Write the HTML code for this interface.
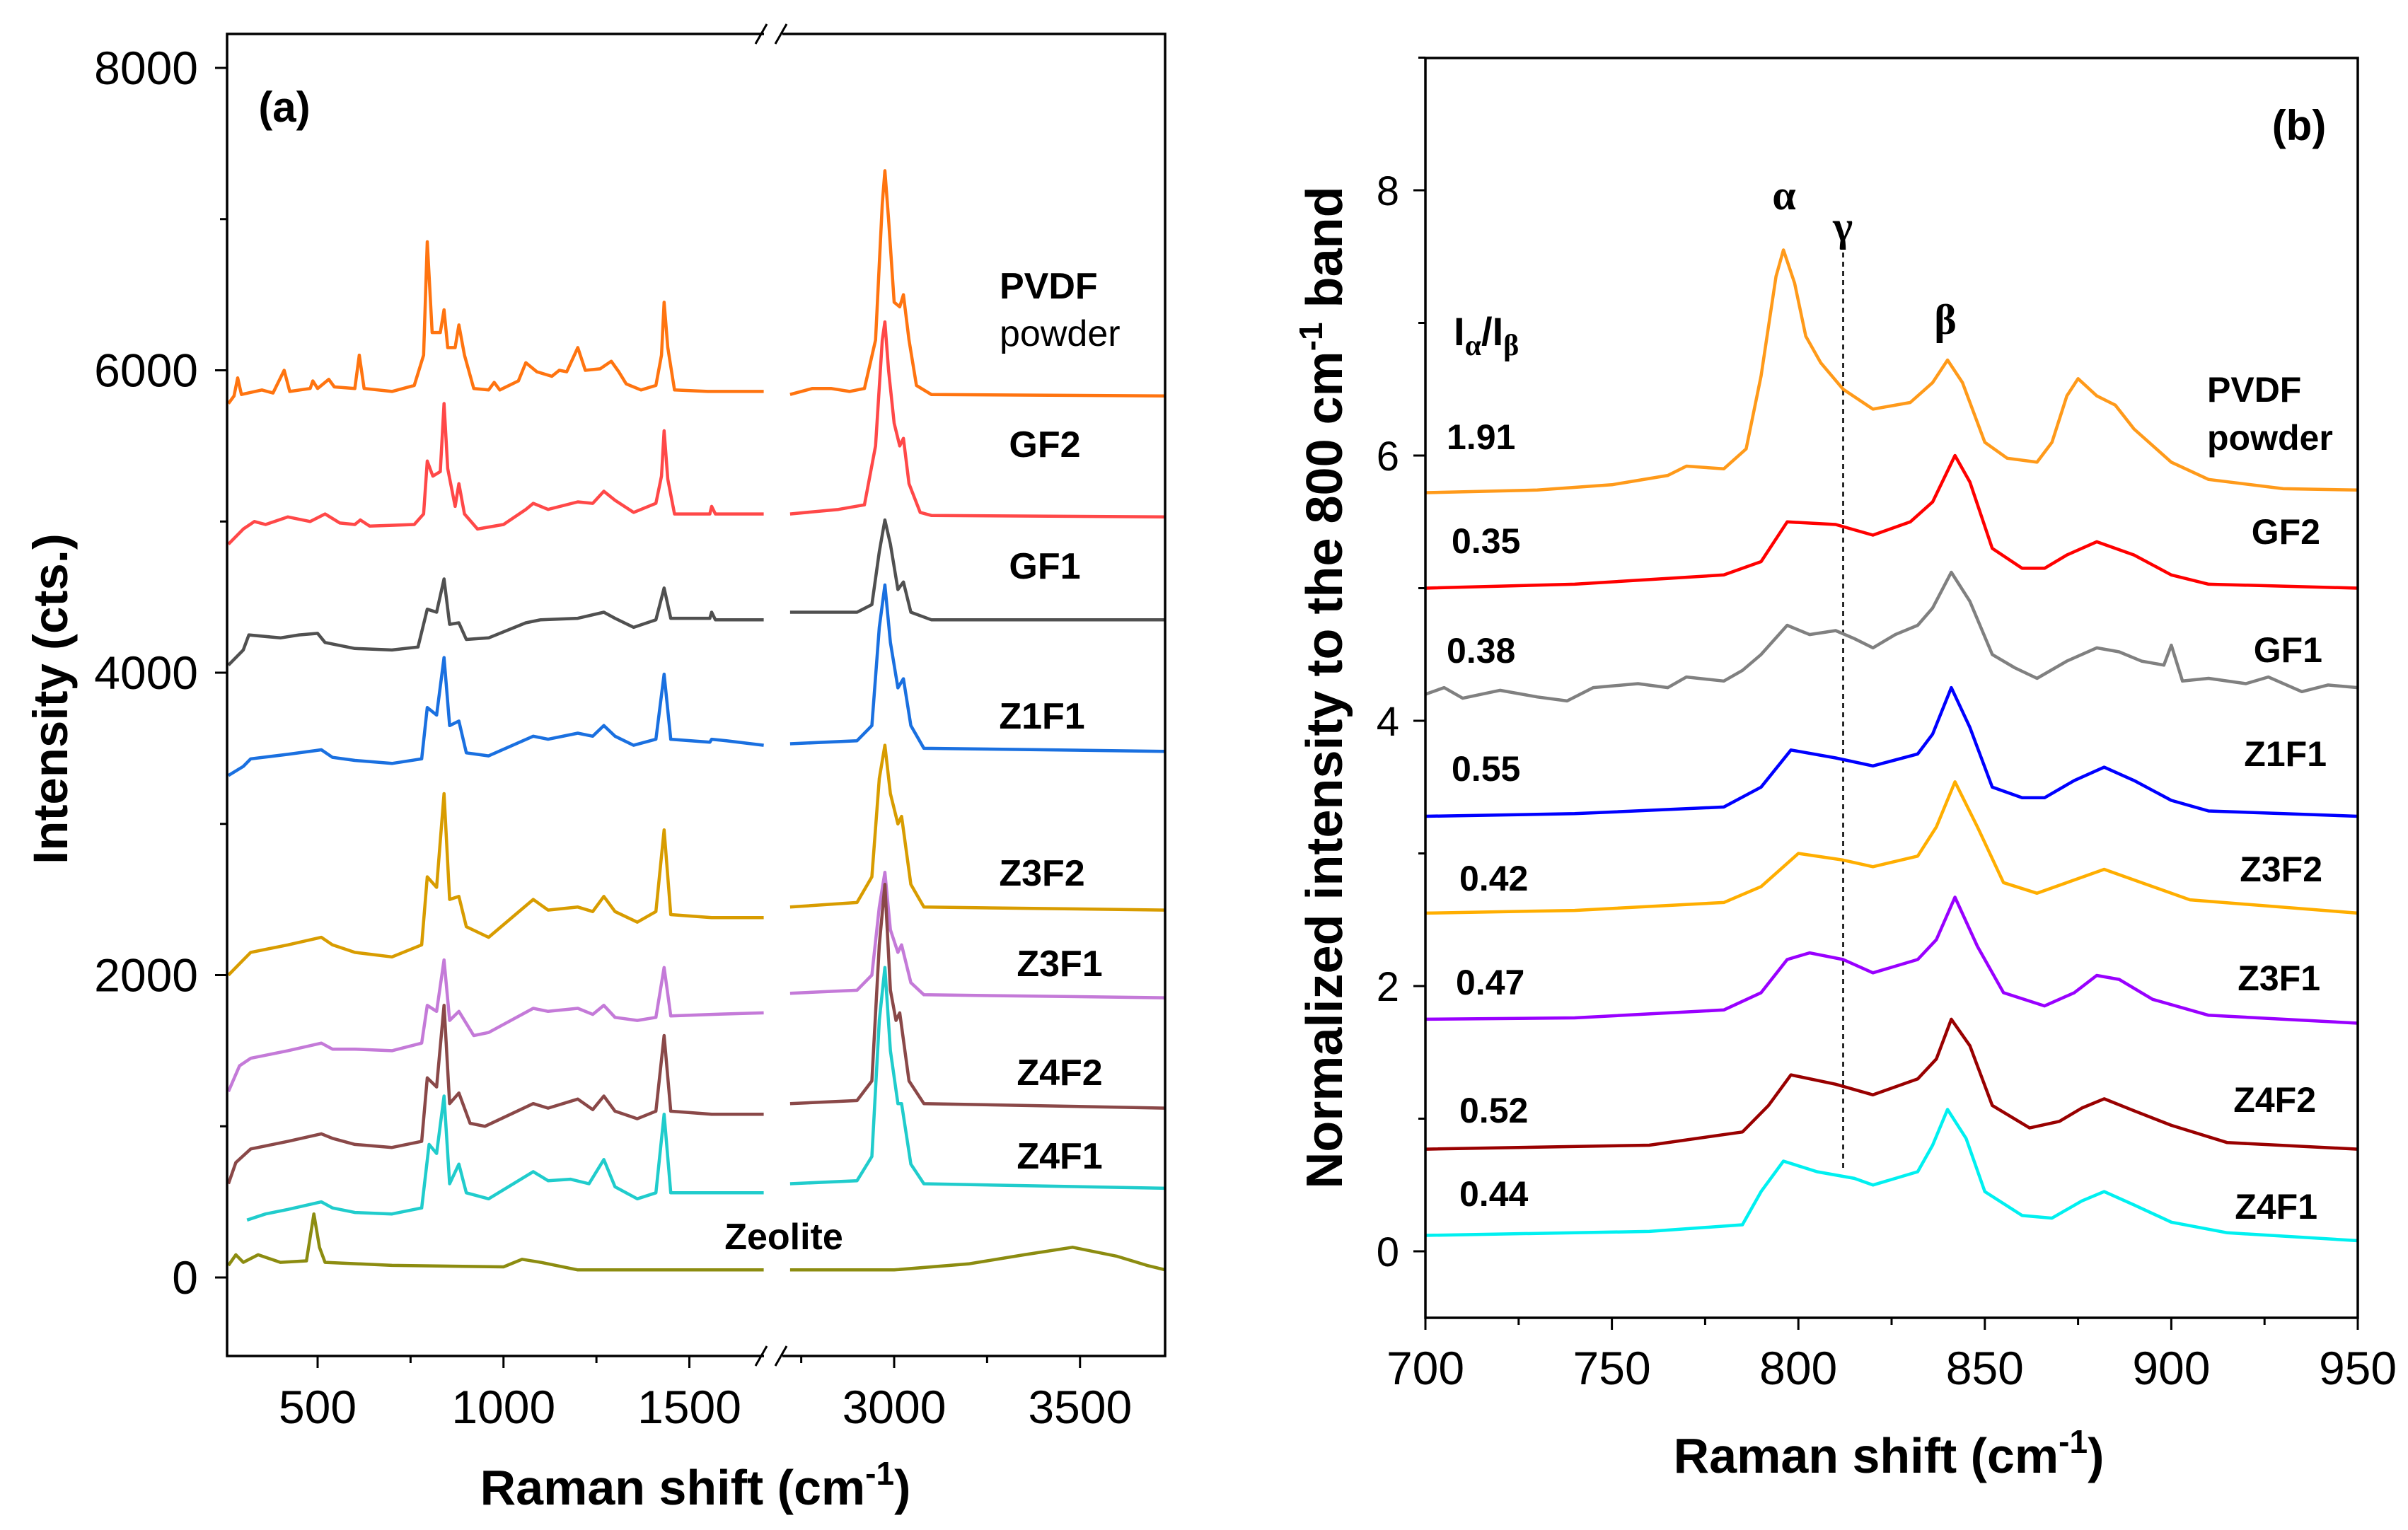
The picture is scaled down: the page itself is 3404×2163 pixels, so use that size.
<!DOCTYPE html>
<html><head><meta charset="utf-8"><style>
html,body{margin:0;padding:0;background:#fff;}
svg{display:block;font-family:"Liberation Sans",Arial,sans-serif;}
</style></head><body>
<svg id="fig" width="3404" height="2163" viewBox="0 0 3404 2163" xmlns="http://www.w3.org/2000/svg">
<g id="pa"></g>
<g id="pb"></g>
</svg>
<script>
// ---------- Panel A data ----------
const aSeriesNames = ["PVDF powder","GF2","GF1","Z1F1","Z3F2","Z3F1","Z4F2","Z4F1","Zeolite"];
const aColors = ["#ff7410","#ff4848","#505050","#1a70e0","#d89c00","#c47ad8","#8a4848","#20cccc","#8c8c10"];
const aPVDF_L = [[260,5780],[275,5830],[285,5950],[295,5840],[350,5870],[380,5850],[410,6000],[425,5860],[480,5880],[487,5930],[500,5880],[530,5940],[545,5890],[600,5880],[612,6100],[625,5880],[700,5860],[760,5900],[785,6100],[795,6850],[808,6250],[830,6250],[840,6400],[850,6150],[870,6150],[880,6300],[895,6100],[920,5880],[960,5870],[975,5920],[990,5870],[1040,5930],[1060,6050],[1090,5990],[1130,5960],[1150,6000],[1170,5990],[1200,6150],[1220,6000],[1260,6010],[1290,6060],[1310,5990],[1330,5910],[1370,5870],[1410,5900],[1425,6100],[1432,6450],[1442,6150],[1460,5870],[1550,5860],[1700,5860]];
const aPVDF_R = [[2720,5840],[2780,5880],[2830,5880],[2880,5860],[2920,5880],[2950,6200],[2968,7100],[2975,7320],[2985,7000],[3000,6450],[3015,6420],[3025,6500],[3040,6200],[3060,5900],[3100,5840],[3730,5830]];
const aGF2_L = [[260,4850],[300,4950],[330,5000],[360,4980],[420,5030],[480,5000],[520,5050],[560,4990],[600,4980],[615,5010],[640,4970],[760,4980],[785,5050],[795,5400],[810,5300],[830,5330],[840,5780],[850,5350],[870,5100],[880,5250],[895,5050],[930,4950],[1000,4980],[1060,5080],[1080,5120],[1120,5080],[1200,5130],[1240,5120],[1270,5200],[1300,5140],[1350,5060],[1410,5120],[1425,5300],[1432,5600],[1442,5280],[1460,5050],[1555,5050],[1560,5100],[1570,5050],[1700,5050]];
const aGF2_R = [[2720,5050],[2850,5080],[2920,5110],[2950,5500],[2968,6200],[2975,6320],[2985,6000],[3000,5650],[3015,5500],[3025,5550],[3040,5250],[3070,5060],[3100,5040],[3730,5030]];
const aGF1_L = [[260,4050],[300,4150],[315,4250],[400,4230],[450,4250],[500,4260],[520,4200],[600,4160],[700,4150],[770,4170],[795,4420],[820,4400],[840,4620],[855,4320],[880,4330],[900,4220],[960,4230],[1060,4330],[1100,4350],[1200,4360],[1270,4400],[1300,4360],[1350,4300],[1410,4350],[1432,4560],[1450,4360],[1555,4360],[1560,4400],[1570,4350],[1700,4350]];
const aGF1_R = [[2720,4400],[2900,4400],[2940,4450],[2960,4800],[2975,5010],[2990,4850],[3010,4550],[3025,4600],[3045,4400],[3100,4350],[3730,4350]];
const aZ1F1_L = [[260,3320],[300,3380],[320,3430],[420,3460],[510,3490],[540,3440],[600,3420],[700,3400],[780,3430],[795,3770],[820,3720],[840,4100],[855,3650],[880,3680],[900,3470],[960,3450],[1080,3580],[1120,3560],[1200,3600],[1240,3580],[1270,3650],[1300,3580],[1350,3520],[1410,3560],[1432,3990],[1450,3560],[1555,3540],[1560,3560],[1600,3550],[1700,3520]];
const aZ1F1_R = [[2720,3530],[2900,3550],[2940,3650],[2960,4300],[2975,4580],[2990,4200],[3010,3900],[3025,3960],[3045,3650],[3080,3500],[3730,3480]];
const aZ3F2_L = [[260,2000],[300,2100],[320,2150],[420,2200],[510,2250],[540,2200],[600,2150],[700,2120],[780,2200],[795,2650],[820,2580],[840,3200],[855,2500],[880,2520],[900,2320],[960,2250],[1080,2500],[1120,2430],[1200,2450],[1240,2420],[1270,2520],[1300,2420],[1360,2350],[1410,2420],[1432,2960],[1450,2400],[1560,2380],[1700,2380]];
const aZ3F2_R = [[2720,2450],[2900,2480],[2940,2650],[2960,3300],[2975,3520],[2990,3200],[3010,3000],[3020,3050],[3045,2600],[3080,2450],[3730,2430]];
const aZ3F1_L = [[260,1230],[290,1400],[320,1450],[420,1500],[510,1550],[540,1510],[600,1510],[700,1500],[780,1550],[795,1800],[820,1760],[840,2100],[855,1700],[880,1760],[920,1600],[960,1620],[1080,1780],[1120,1760],[1200,1780],[1240,1740],[1270,1800],[1300,1720],[1360,1700],[1410,1720],[1432,2050],[1450,1730],[1560,1740],[1700,1750]];
const aZ3F1_R = [[2720,1880],[2900,1900],[2940,2000],[2960,2450],[2975,2680],[2990,2300],[3010,2150],[3020,2200],[3045,1950],[3080,1870],[3730,1850]];
const aZ4F2_L = [[260,620],[280,760],[320,850],[420,900],[510,950],[540,920],[600,880],[700,860],[780,900],[795,1320],[820,1260],[840,1800],[855,1150],[880,1220],[910,1020],[950,1000],[1080,1150],[1120,1120],[1200,1180],[1240,1110],[1270,1200],[1300,1100],[1360,1050],[1410,1100],[1432,1600],[1450,1100],[1560,1080],[1700,1080]];
const aZ4F2_R = [[2720,1150],[2900,1170],[2940,1300],[2960,2200],[2975,2600],[2990,1900],[3005,1700],[3015,1750],[3040,1300],[3080,1150],[3730,1120]];
const aZ4F1_L = [[310,380],[360,420],[420,450],[510,500],[540,460],[600,430],[700,420],[780,460],[800,880],[820,820],[840,1200],[855,620],[880,750],[900,560],[960,520],[1080,700],[1120,640],[1180,650],[1230,620],[1270,780],[1300,600],[1360,520],[1410,560],[1432,1080],[1450,560],[1560,560],[1700,560]];
const aZ4F1_R = [[2720,620],[2900,640],[2940,800],[2960,1700],[2975,2050],[2990,1500],[3010,1150],[3020,1150],[3045,750],[3080,620],[3730,590]];
const aZeo_L = [[260,80],[280,150],[300,100],[340,150],[400,100],[470,110],[490,420],[505,200],[520,100],[700,80],[1000,70],[1050,120],[1100,100],[1200,50],[1700,50]];
const aZeo_R = [[2720,50],[3000,50],[3200,90],[3350,150],[3480,200],[3600,140],[3680,80],[3730,50]];
const aLeft = [aPVDF_L,aGF2_L,aGF1_L,aZ1F1_L,aZ3F2_L,aZ3F1_L,aZ4F2_L,aZ4F1_L,aZeo_L];
const aRight = [aPVDF_R,aGF2_R,aGF1_R,aZ1F1_R,aZ3F2_R,aZ3F1_R,aZ4F2_R,aZ4F1_R,aZeo_R];
const aYTicks = [0,2000,4000,6000,8000];
const aXTicksL = [500,1000,1500];
const aXTicksR = [3000,3500];

// ---------- Panel B data ----------
const bSeriesNames = ["PVDF powder","GF2","GF1","Z1F1","Z3F2","Z3F1","Z4F2","Z4F1"];
const bColors = ["#ff9a1a","#ff0000","#808080","#0000ff","#ffae00","#9900ff","#990000","#00f0f0"];
const bRatios = ["1.91","0.35","0.38","0.55","0.42","0.47","0.52","0.44"];
const bPVDF = [[700,5.72],[730,5.74],[750,5.78],[765,5.85],[770,5.92],[780,5.9],[786,6.05],[790,6.6],[794,7.35],[796,7.55],[799,7.3],[802,6.9],[806,6.7],[812,6.5],[820,6.35],[830,6.4],[836,6.55],[840,6.72],[844,6.55],[850,6.1],[856,5.98],[864,5.95],[868,6.1],[872,6.45],[875,6.58],[880,6.45],[885,6.38],[890,6.2],[900,5.95],[910,5.82],[930,5.75],[950,5.74]];
const bGF2 = [[700,5.0],[740,5.03],[780,5.1],[790,5.2],[797,5.5],[810,5.48],[820,5.4],[830,5.5],[836,5.65],[842,6.0],[846,5.8],[852,5.3],[860,5.15],[866,5.15],[872,5.25],[880,5.35],[890,5.25],[900,5.1],[910,5.03],[950,5.0]];
const bGF1 = [[700,4.2],[705,4.25],[710,4.17],[720,4.23],[730,4.18],[738,4.15],[745,4.25],[757,4.28],[765,4.25],[770,4.33],[780,4.3],[785,4.38],[790,4.5],[797,4.72],[803,4.65],[810,4.68],[815,4.62],[820,4.55],[826,4.65],[832,4.72],[836,4.85],[841,5.12],[846,4.9],[852,4.5],[858,4.4],[864,4.32],[872,4.45],[880,4.55],[886,4.52],[892,4.45],[898,4.42],[900,4.57],[903,4.3],[910,4.32],[920,4.28],[926,4.33],[935,4.22],[942,4.27],[950,4.25]];
const bZ1F1 = [[700,3.28],[740,3.3],[780,3.35],[790,3.5],[798,3.78],[810,3.72],[820,3.66],[832,3.75],[836,3.9],[841,4.25],[846,3.95],[852,3.5],[860,3.42],[866,3.42],[874,3.55],[882,3.65],[890,3.55],[900,3.4],[910,3.32],[950,3.28]];
const bZ3F2 = [[700,2.55],[740,2.57],[780,2.63],[790,2.75],[800,3.0],[812,2.95],[820,2.9],[832,2.98],[837,3.2],[842,3.54],[848,3.2],[855,2.78],[864,2.7],[872,2.78],[882,2.88],[892,2.78],[905,2.65],[950,2.55]];
const bZ3F1 = [[700,1.75],[740,1.76],[780,1.82],[790,1.95],[797,2.2],[803,2.25],[812,2.2],[820,2.1],[832,2.2],[837,2.35],[842,2.67],[848,2.3],[855,1.95],[866,1.85],[874,1.95],[880,2.08],[886,2.05],[895,1.9],[910,1.78],[950,1.72]];
const bZ4F2 = [[700,0.77],[760,0.8],[785,0.9],[792,1.1],[798,1.33],[810,1.26],[820,1.18],[832,1.3],[837,1.45],[841,1.75],[846,1.55],[852,1.1],[862,0.93],[870,0.98],[876,1.08],[882,1.15],[890,1.06],[900,0.95],[915,0.82],[950,0.77]];
const bZ4F1 = [[700,0.12],[760,0.15],[785,0.2],[790,0.45],[796,0.68],[805,0.6],[815,0.55],[820,0.5],[832,0.6],[836,0.8],[840,1.07],[845,0.85],[850,0.45],[860,0.27],[868,0.25],[876,0.38],[882,0.45],[890,0.35],[900,0.22],[915,0.14],[950,0.08]];
const bSeries = [bPVDF,bGF2,bGF1,bZ1F1,bZ3F2,bZ3F1,bZ4F2,bZ4F1];
const bXTicks = [700,750,800,850,900,950];
const bYTicks = [0,2,4,6,8];

const NS = "http://www.w3.org/2000/svg";
function mk(parent, tag, attrs, text) {
  const e = document.createElementNS(NS, tag);
  for (const k in attrs) e.setAttribute(k, attrs[k]);
  if (text !== undefined) e.textContent = text;
  parent.appendChild(e);
  return e;
}
function xA(v){ return v <= 1700 ? 449 + (v-500)*0.5255 : 1264 + (v-3000)*0.5255; }
function yA(v){ return 1806 - v*0.21375; }
function xB(v){ return 2015 + (v-700)*5.272; }
function yB(v){ return 1769 - v*187.5; }
function pts(arr, fx, fy){ return arr.map(p => fx(p[0]).toFixed(1)+","+fy(p[1]).toFixed(1)).join(" "); }

// ---------- Panel A ----------
const pa = document.getElementById('pa');
const A = {l:321, r:1647, t:48, b:1917, brk1:1080, brk2:1106};
for (let i=0;i<aLeft.length;i++){
  let e = mk(pa,'polyline',{points:pts(aLeft[i],xA,yA),fill:'none',stroke:aColors[i],'stroke-width':4.5,'stroke-linejoin':'round'});
  
  
  e = mk(pa,'polyline',{points:pts(aRight[i],xA,yA),fill:'none',stroke:aColors[i],'stroke-width':4.5,'stroke-linejoin':'round'});
  
  
}
let fr = mk(pa,'path',{d:`M${A.brk1},${A.t} H${A.l} V${A.b} H${A.brk1} M${A.brk2},${A.t} H${A.r} V${A.b} H${A.brk2}`,fill:'none',stroke:'#000','stroke-width':3.5});


[A.t,A.b].forEach(yy=>{
  let bk = mk(pa,'path',{d:`M${A.brk1-12},${yy+14} L${A.brk1+4},${yy-14} M${A.brk2-10},${yy+14} L${A.brk2+6},${yy-14}`,stroke:'#000','stroke-width':3,fill:'none'});
  
  
});
for (let v=0; v<=8000; v+=1000){
  const major = aYTicks.includes(v);
  let t = mk(pa,'line',{x1:A.l-(major?17:10),x2:A.l,y1:yA(v),y2:yA(v),stroke:'#000','stroke-width':3});
  
  
}
aYTicks.forEach(v=>{
  let t = mk(pa,'text',{x:280,y:yA(v)+23,'text-anchor':'end','font-size':66},String(v));
  
  
});
for (let v=250; v<=1700; v+=250){ if (v<256) continue;
  const major = aXTicksL.includes(v);
  let t = mk(pa,'line',{x1:xA(v),x2:xA(v),y1:A.b,y2:A.b+(major?17:10),stroke:'#000','stroke-width':3});
  
  
}
for (let v=2750; v<=3730; v+=250){
  const major = aXTicksR.includes(v);
  let t = mk(pa,'line',{x1:xA(v),x2:xA(v),y1:A.b,y2:A.b+(major?17:10),stroke:'#000','stroke-width':3});
  
  
}
aXTicksL.concat(aXTicksR).forEach(v=>{
  let t = mk(pa,'text',{x:xA(v),y:2012,'text-anchor':'middle','font-size':66},String(v));
  
  
});
let ta = mk(pa,'text',{x:983,y:2127,'text-anchor':'middle','font-size':70,'font-weight':'bold'},'Raman shift (cm');


mk(ta,'tspan',{dy:-28,'font-size':46},'-1');
mk(ta,'tspan',{dy:28},')');
let tya = mk(pa,'text',{x:0,y:0,transform:'translate(95,988) rotate(-90)','text-anchor':'middle','font-size':69,'font-weight':'bold'},'Intensity (cts.)');


let pla = mk(pa,'text',{x:402,y:172,'text-anchor':'middle','font-size':60,'font-weight':'bold'},'(a)');


const aLabelPos = [[1413,422],[1477,646],[1477,818],[1473,1030],[1473,1252],[1498,1380],[1498,1534],[1498,1652],[1108,1766]];
for (let i=0;i<aSeriesNames.length;i++){
  const nm = i===0 ? 'PVDF' : aSeriesNames[i];
  let t = mk(pa,'text',{x:aLabelPos[i][0],y:aLabelPos[i][1],'text-anchor':i===0?'start':'middle','font-size':52,'font-weight':'bold'},nm);
  
  
}
let pw = mk(pa,'text',{x:1413,y:489,'font-size':52},'powder');



// ---------- Panel B ----------
const pb = document.getElementById('pb');
const B = {l:2015, r:3333, t:82, b:1863};
let dl = mk(pb,'line',{x1:xB(812),x2:xB(812),y1:yB(7.6),y2:yB(0.6),stroke:'#000','stroke-width':2.5,'stroke-dasharray':'7,6'});


for (let i=0;i<bSeries.length;i++){
  let e = mk(pb,'polyline',{points:pts(bSeries[i],xB,yB),fill:'none',stroke:bColors[i],'stroke-width':4.5,'stroke-linejoin':'round'});
  
  
}
let frb = mk(pb,'rect',{x:B.l,y:B.t,width:B.r-B.l,height:B.b-B.t,fill:'none',stroke:'#000','stroke-width':3.5});


for (let v=0; v<=9; v+=1){
  const major = bYTicks.includes(v);
  let t = mk(pb,'line',{x1:B.l-(major?17:10),x2:B.l,y1:yB(v),y2:yB(v),stroke:'#000','stroke-width':3});
  
  
}
bYTicks.forEach(v=>{
  let t = mk(pb,'text',{x:1978,y:yB(v)+21,'text-anchor':'end','font-size':58},String(v));
  
  
});
for (let v=700; v<=950; v+=25){
  const major = bXTicks.includes(v);
  let t = mk(pb,'line',{x1:xB(v),x2:xB(v),y1:B.b,y2:B.b+(major?17:10),stroke:'#000','stroke-width':3});
  
  
}
bXTicks.forEach(v=>{
  let t = mk(pb,'text',{x:xB(v),y:1957,'text-anchor':'middle','font-size':66},String(v));
  
  
});
let tb = mk(pb,'text',{x:2670,y:2082,'text-anchor':'middle','font-size':70,'font-weight':'bold'},'Raman shift (cm');


mk(tb,'tspan',{dy:-28,'font-size':46},'-1');
mk(tb,'tspan',{dy:28},')');
let tyb = mk(pb,'text',{x:0,y:0,transform:'translate(1897,972) rotate(-90)','text-anchor':'middle','font-size':72,'font-weight':'bold'},'Normalized intensity to the 800 cm');


mk(tyb,'tspan',{dy:-28,'font-size':46},'-1');
mk(tyb,'tspan',{dy:28},' band');
let plb = mk(pb,'text',{x:3250,y:198,'text-anchor':'middle','font-size':60,'font-weight':'bold'},'(b)');


let ga = mk(pb,'text',{x:2522,y:296,'text-anchor':'middle','font-size':60,'font-weight':'bold','font-family':'Liberation Serif, serif'},'α');
 
let gg = mk(pb,'text',{x:2605,y:340,'text-anchor':'middle','font-size':60,'font-weight':'bold','font-family':'Liberation Serif, serif'},'γ');
 
let gb = mk(pb,'text',{x:2750,y:472,'text-anchor':'middle','font-size':60,'font-weight':'bold','font-family':'Liberation Serif, serif'},'β');
 
let ir = mk(pb,'text',{x:2055,y:488,'font-size':56,'font-weight':'bold'},'I');
 
mk(ir,'tspan',{dy:14,'font-size':42,'font-family':'Liberation Serif, serif'},'α');
mk(ir,'tspan',{dy:-14},'/I');
mk(ir,'tspan',{dy:14,'font-size':42,'font-family':'Liberation Serif, serif'},'β');
const bRatioPos = [[2045,635],[2052,782],[2045,937],[2052,1104],[2063,1259],[2058,1406],[2063,1587],[2063,1705]];
const bLabelPos = [[3316,567],[3280,769],[3283,936],[3289,1083],[3283,1246],[3280,1400],[3274,1572],[3276,1723]];
for (let i=0;i<bSeries.length;i++){
  let t = mk(pb,'text',{x:bRatioPos[i][0],y:bRatioPos[i][1],'font-size':50,'font-weight':'bold'},bRatios[i]);
  
  
  const nm = i===0 ? 'PVDF' : bSeriesNames[i];
  let s = mk(pb,'text',{x:i===0?3120:bLabelPos[i][0],y:i===0?568:bLabelPos[i][1],'text-anchor':i===0?'start':'end','font-size':50,'font-weight':'bold'},nm);
  
  
}
let pwb = mk(pb,'text',{x:3120,y:636,'font-size':50,'font-weight':'bold'},'powder');


</script>
</body></html>
